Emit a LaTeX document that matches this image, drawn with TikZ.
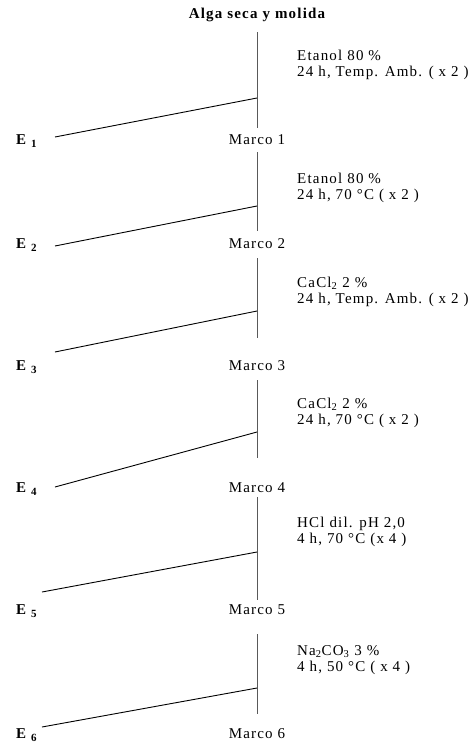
\documentclass[tikz,border=0pt]{standalone}
\usepackage{fontspec}
\setmainfont{Liberation Serif}[LetterSpace=8.0]

\tikzset{
    etapa/.style={font=\fontsize{15}{16.5}\selectfont, inner sep=0pt},
    titulo/.style={font=\fontsize{15}{16.5}\selectfont\bfseries, inner sep=0pt},
    extracto/.style={font=\fontsize{15}{16.5}\selectfont\bfseries, inner sep=0pt, anchor=west},
    condicion/.style={font=\fontsize{15}{16.5}\selectfont, inner sep=0pt, anchor=west, align=left},
    eje/.style={draw=black!65, line width=1pt},
    rama/.style={draw=black, line width=0.9pt}
}

\begin{document}
\begin{tikzpicture}[x=1pt, y=-1pt]
    \useasboundingbox (0,0) rectangle (476,744);
    \node[titulo] (alga) at (257,15) {Alga seca y molida};

    % Etapas de extraccion
    \foreach \k/\ya/\yb/\yj/\xe/\ye/\ym in {
        1/32/128/98/55/137/140,
        2/152/231/206/55/246/244,
        3/258/338/311/55/352/366,
        4/380/458/432/55/487/488,
        5/497/600/552/42/592/610,
        6/634/714/688/42/727/734} {
        \coordinate (arriba\k) at (257,\ya);
        \coordinate (abajo\k) at (257,\yb);
        \coordinate (union\k) at (257,\yj);
        \coordinate (fin\k) at (\xe,\ye);
        \node[etapa] (marco\k) at (257,\ym) {Marco \k};
        \node[extracto] (e\k) at (16,\ym+1) {E\hspace{5pt}\raisebox{-3pt}{\fontsize{11}{12}\selectfont\k}};
        \draw[eje] (arriba\k) -- (abajo\k);
        \draw[rama] (union\k) -- (fin\k);
    }

    % Condiciones
    \node[condicion] (cond1) at (297,65) {Etanol 80 \%\\24 h, Temp. Amb. ( x 2 )};
    \node[condicion] (cond2) at (297,188) {Etanol 80 \%\\24 h, 70 °C ( x 2 )};
    \node[condicion] (cond3) at (297,292) {CaCl\textsubscript{2} 2 \%\\24 h, Temp. Amb. ( x 2 )};
    \node[condicion] (cond4) at (297,413) {CaCl\textsubscript{2} 2 \%\\24 h, 70 °C ( x 2 )};
    \node[condicion] (cond5) at (297,532) {HCl dil. pH 2,0\\4 h, 70 °C (x 4 )};
    \node[condicion] (cond6) at (297,660) {Na\textsubscript{2}CO\textsubscript{3} 3 \%\\4 h, 50 °C ( x 4 )};
\end{tikzpicture}
\end{document}
